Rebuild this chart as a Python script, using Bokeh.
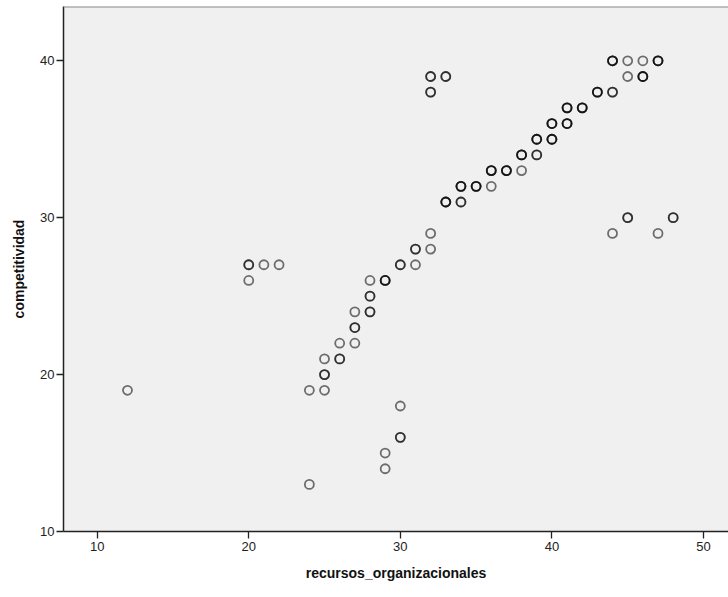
from bokeh.plotting import figure
from bokeh.models import Span, Range1d, FixedTicker, ColumnDataSource
from bokeh.embed import file_html
from bokeh.resources import INLINE

# Observed points: x, y and how many cases overlap at each spot
x_vals = [12, 20, 21, 22, 20, 24, 25, 24, 25, 25, 26, 26, 27, 27, 27, 28, 28, 28, 29,
          30, 31, 31, 32, 32, 30, 30, 29, 29, 32, 33, 32, 33, 34, 34, 35, 36, 36, 37, 38,
          38, 39, 39, 40, 40, 41, 41, 42, 43, 44, 44, 45, 46, 47, 45, 46, 44, 45, 47, 48]
y_vals = [19, 27, 27, 27, 26, 19, 19, 13, 21, 20, 22, 21, 24, 23, 22, 26, 25, 24, 26,
          27, 27, 28, 28, 29, 18, 16, 15, 14, 39, 39, 38, 31, 31, 32, 32, 32, 33, 33, 33,
          34, 34, 35, 35, 36, 36, 37, 37, 38, 38, 40, 40, 40, 40, 39, 39, 29, 30, 29, 30]
counts = [1, 2, 1, 1, 1, 1, 1, 1, 1, 2, 1, 2, 1, 2, 1, 1, 2, 2, 3,
          2, 1, 2, 1, 1, 1, 2, 1, 1, 2, 2, 2, 3, 2, 3, 3, 1, 3, 3, 1,
          3, 2, 3, 3, 3, 3, 3, 3, 3, 2, 3, 1, 1, 3, 1, 3, 1, 2, 1, 2]

x_ticks = [10, 20, 30, 40, 50]
y_ticks = [10, 20, 30, 40]
x_title = "recursos_organizacionales"
y_title = "competitividad"

xs, ys = [], []
for xv, yv, c in zip(x_vals, y_vals, counts):
    for _ in range(c):
        xs.append(xv)
        ys.append(yv)
src = ColumnDataSource(dict(x=xs, y=ys))

y_end = 43.46
p = figure(width=728, height=597, output_backend="svg", toolbar_location=None,
           x_range=Range1d(7.78, 51.65), y_range=Range1d(10, y_end),
           min_border_left=63, min_border_right=0, min_border_top=6, min_border_bottom=66)
p.background_fill_color = "#f0f0f0"
p.border_fill_color = "white"
p.outline_line_color = None
p.xgrid.visible = False
p.ygrid.visible = False

p.scatter("x", "y", source=src, marker="circle", size=9, fill_color=None,
          line_color="black", line_alpha=0.55, line_width=1.8)

p.add_layout(Span(location=y_end, dimension="width", line_color="#8a8a8a", line_width=2))

for ax, ticks in ((p.xaxis, x_ticks), (p.yaxis, y_ticks)):
    ax.ticker = FixedTicker(ticks=ticks)
    ax.minor_tick_line_color = None
    ax.major_tick_in = 0
    ax.major_tick_out = 7
    ax.major_tick_line_color = "#222222"
    ax.major_tick_line_width = 1.3
    ax.axis_line_color = "#222222"
    ax.axis_line_width = 1.5
    ax.major_label_text_font = "Liberation Sans"
    ax.major_label_text_font_size = "13px"
    ax.major_label_text_color = "#222222"
    ax.axis_label_text_font = "Liberation Sans"
    ax.axis_label_text_font_size = "14px"
    ax.axis_label_text_font_style = "bold"
    ax.axis_label_text_color = "#111111"

p.xaxis.axis_label = x_title
p.yaxis.axis_label = y_title
p.xaxis.major_label_standoff = 3
p.yaxis.major_label_standoff = 2
p.xaxis.axis_label_standoff = 11
p.yaxis.axis_label_standoff = 10

open("out.html", "w").write(file_html(p, INLINE))
